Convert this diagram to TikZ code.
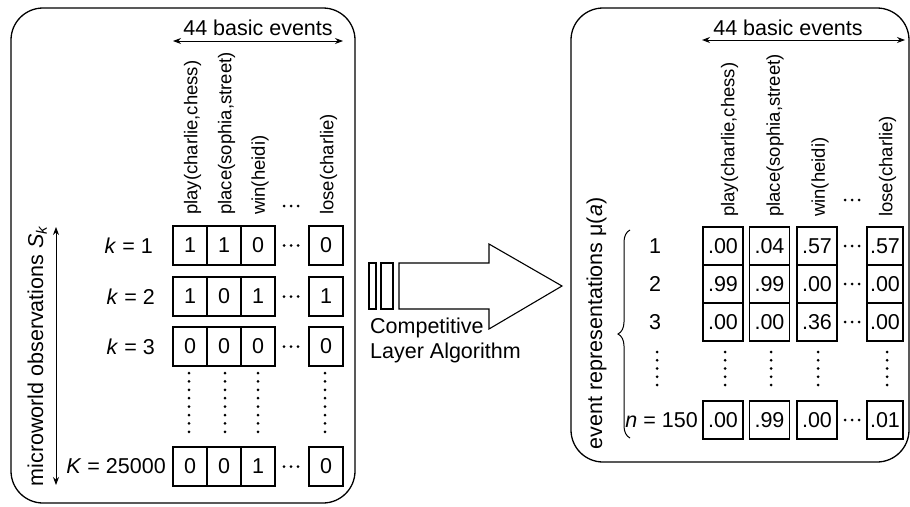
\documentclass[tikz,border=0pt]{standalone}
\usepackage{fontspec}
\setmainfont{Liberation Sans}
\usetikzlibrary{arrows.meta,decorations.pathreplacing}
\newcommand\mainsz{\fontsize{21.5}{25}\selectfont}
\newcommand\labsz{\fontsize{18.5}{22}\selectfont}
\begin{document}
\begin{tikzpicture}[x=1pt,y=-1pt,
  cellL/.style={draw, line width=1.2pt, minimum width=34pt, minimum height=39pt, inner sep=0pt, font=\mainsz},
  cellR/.style={draw, line width=1.2pt, minimum width=40pt, minimum height=38pt, inner sep=0pt, font=\mainsz},
  cellRn/.style={cellR, minimum width=36pt},
  lab/.style={font=\mainsz, inner sep=0pt},
  evlab/.style={font=\labsz, rotate=90, anchor=west, inner sep=0pt},
  panel/.style={draw, line width=1.3pt, rounded corners=32pt},
  dbl/.style={{Stealth[length=8pt,width=6pt]}-{Stealth[length=8pt,width=6pt]}, line width=1pt},
  dotc/.style={fill=black}
]
\useasboundingbox (0,0) rectangle (910,506);

% ---------- left panel ----------
\draw[panel] (11,8) rectangle (355,503);
\coordinate (lh1) at (173,41);
\coordinate (lh2) at (343,41);
\draw[dbl] (lh1) -- (lh2);
\node[lab] (lhead) at (258,28) {44 basic events};

\node[evlab] (le1) at (192.5,215) {play(charlie,chess)};
\node[evlab] (le2) at (226.5,215) {place(sophia,street)};
\node[evlab] (le3) at (260,215) {win(heidi)};
\node[evlab] (le4) at (328.5,215) {lose(charlie)};
\foreach \d in {-7,0,7} \fill[dotc] (291+\d,206) circle (1.5pt);

\coordinate (lv1) at (56,227);
\coordinate (lv2) at (56,485);
\draw[dbl] (lv1) -- (lv2);
\node[lab, rotate=90, anchor=base] (lvlab) at (43,356) {microworld observations \textit{S}\textsubscript{\textit{k}}};

% rows
\node[lab, anchor=east] (k1) at (153,245.5) {\textit{k} = 1};
\node[lab, anchor=east] (k2) at (155,296.5) {\textit{k} = 2};
\node[lab, anchor=east] (k3) at (155,346.5) {\textit{k} = 3};
\node[lab, anchor=east] (kK) at (166,466.5) {\textit{K} = 25000};

\node[cellL] (a11) at (190,245.5) {1};
\node[cellL] (a12) at (224,245.5) {1};
\node[cellL] (a13) at (258,245.5) {0};
\node[cellL] (a14) at (326,245.5) {0};
\node[cellL] (a21) at (190,296.5) {1};
\node[cellL] (a22) at (224,296.5) {0};
\node[cellL] (a23) at (258,296.5) {1};
\node[cellL] (a24) at (326,296.5) {1};
\node[cellL] (a31) at (190,346.5) {0};
\node[cellL] (a32) at (224,346.5) {0};
\node[cellL] (a33) at (258,346.5) {0};
\node[cellL] (a34) at (326,346.5) {0};
\node[cellL] (a41) at (190,466.5) {0};
\node[cellL] (a42) at (224,466.5) {0};
\node[cellL] (a43) at (258,466.5) {1};
\node[cellL] (a44) at (326,466.5) {0};
\foreach \y in {245.5,296.5,346.5,466.5}
  \foreach \d in {-7,0,7} \fill[dotc] (291+\d,\y) circle (1.5pt);
\foreach \x in {189,225,258,325}
  \foreach \i in {0,...,7} \fill[dotc] (\x,373+\i*8.4) circle (1.5pt);

% ---------- middle arrow ----------
\draw[line width=1.1pt] (369,263) rectangle (376,309);
\draw[line width=1.1pt] (381,263) rectangle (393,309);
\draw[line width=1.1pt] (399,263) -- (489,263) -- (489,244) -- (562,286) -- (489,329) -- (489,309) -- (399,309) -- cycle;
\node[lab, anchor=base west] (comp1) at (370,333) {Competitive};
\node[lab, anchor=base west] (comp2) at (370,358) {Layer Algorithm};

% ---------- right panel ----------
\draw[panel] (571,8) rectangle (909,462);
\coordinate (rh1) at (702,40);
\coordinate (rh2) at (905,40);
\draw[dbl] (rh1) -- (rh2);
\node[lab] (rhead) at (788,28) {44 basic events};

\node[evlab] (re1) at (729.5,217) {play(charlie,chess)};
\node[evlab] (re2) at (775,217) {place(sophia,street)};
\node[evlab] (re3) at (820,217) {win(heidi)};
\node[evlab] (re4) at (887.5,217) {lose(charlie)};
\foreach \d in {-7,0,7} \fill[dotc] (852+\d,200) circle (1.5pt);

\node[lab, rotate=90, anchor=base] (rvlab) at (602,323.5) {event representations μ(\textit{a})};
\coordinate (br1) at (630,438);
\coordinate (br2) at (630,230);
\draw[line width=1pt, decorate, decoration={brace, amplitude=12pt}] (br1) -- (br2);

\node[lab] (n1) at (655,246) {1};
\node[lab] (n2) at (655,284) {2};
\node[lab] (n3) at (655,322) {3};
\node[lab, anchor=east] (nN) at (698,420) {\textit{n} = 150};

\node[cellR] (b11) at (723,246) {.00};
\node[cellR] (b12) at (769.5,246) {.04};
\node[cellR] (b13) at (817,246) {.57};
\node[cellRn] (b14) at (885,246) {.57};
\node[cellR] (b21) at (723,284) {.99};
\node[cellR] (b22) at (769.5,284) {.99};
\node[cellR] (b23) at (817,284) {.00};
\node[cellRn] (b24) at (885,284) {.00};
\node[cellR] (b31) at (723,322) {.00};
\node[cellR] (b32) at (769.5,322) {.00};
\node[cellR] (b33) at (817,322) {.36};
\node[cellRn] (b34) at (885,322) {.00};
\node[cellR] (b41) at (723,420) {.00};
\node[cellR] (b42) at (769.5,420) {.99};
\node[cellR] (b43) at (817,420) {.00};
\node[cellRn] (b44) at (885,420) {.01};
\foreach \y in {246,284,322,420}
  \foreach \d in {-7,0,7} \fill[dotc] (852+\d,\y) circle (1.5pt);
\foreach \x in {657,725,771,818,887}
  \foreach \i in {0,...,4} \fill[dotc] (\x,352+\i*8.25) circle (1.5pt);
\end{tikzpicture}
\end{document}
